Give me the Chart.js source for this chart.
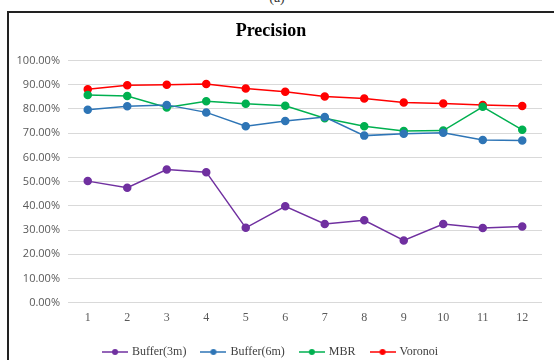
<!DOCTYPE html>
<html lang="en">
<head>
  <meta charset="UTF-8">
  <title>Precision</title>
  <script src="https://cdn.jsdelivr.net/npm/chart.js"></script>
  <style>
    body {
      margin: 0;
      padding: 0;
      background: #fff;
      overflow: hidden;
    }
    .frame {
      position: absolute;
      left: 7px;
      top: 11px;
      width: 580px;
      height: 400px;
      border: 2px solid #222;
      box-sizing: border-box;
    }
    .tag {
      position: absolute;
      left: 0;
      width: 554px;
      top: -10px;
      text-align: center;
      font: 14px "Liberation Serif", serif;
      color: #333;
    }
    .box {
      position: absolute;
      left: 0;
      top: 0;
      width: 554px;
      height: 368px;
    }
  </style>
</head>
<body>
  <div class="tag">(a)</div>
  <div class="frame"></div>
  <div class="box"><canvas id="chart"></canvas></div>
  <script>
    // data
    const runs = ["1", "2", "3", "4", "5", "6", "7", "8", "9", "10", "11", "12"];
    const buffer3m = [50.2, 47.5, 55.0, 53.9, 30.9, 39.8, 32.5, 34.0, 25.7, 32.5, 30.8, 31.4];
    const buffer6m = [79.7, 81.1, 81.7, 78.6, 72.9, 75.0, 76.7, 69.0, 69.8, 70.2, 67.2, 67.0];
    const mbr = [85.8, 85.4, 80.6, 83.2, 82.2, 81.3, 76.2, 72.9, 70.9, 71.1, 80.9, 71.4];
    const voronoi = [88.2, 89.8, 90.0, 90.3, 88.5, 87.1, 85.2, 84.3, 82.7, 82.3, 81.7, 81.2];
    const seriesNames = ["Buffer(3m)", "Buffer(6m)", "MBR", "Voronoi"];
    const seriesColors = ["#7030A0", "#2E75B6", "#00B050", "#FF0000"];

    // legend marker: short line with a dot in the middle
    const legendMark = (color) => {
      const c = document.createElement("canvas");
      c.width = 26;
      c.height = 8;
      const g = c.getContext("2d");
      g.strokeStyle = color;
      g.lineWidth = 1.5;
      g.beginPath();
      g.moveTo(0, 4);
      g.lineTo(26, 4);
      g.stroke();
      g.fillStyle = color;
      g.beginPath();
      g.arc(13, 4, 3, 0, Math.PI * 2);
      g.fill();
      return c;
    };

    const allData = [buffer3m, buffer6m, mbr, voronoi];
    const datasets = allData.map((d, i) => ({
      label: seriesNames[i],
      data: d,
      borderColor: seriesColors[i],
      backgroundColor: seriesColors[i],
      borderWidth: 1.5,
      pointRadius: 3.5,
      pointHoverRadius: 4,
      tension: 0
    }));

    new Chart(document.getElementById("chart"), {
      type: "line",
      data: { labels: runs, datasets: datasets },
      options: {
        responsive: true,
        maintainAspectRatio: false,
        animation: false,
        layout: { padding: { left: 0, right: 12, top: 14, bottom: 0 } },
        plugins: {
          title: {
            display: true,
            text: "Precision",
            color: "#000",
            font: { family: "'Liberation Serif', serif", size: 18, weight: "bold" },
            padding: { top: 7, bottom: 18 }
          },
          legend: {
            position: "bottom",
            labels: {
              usePointStyle: true,
              pointStyleWidth: 22,
              color: "#404040",
              font: { family: "'Liberation Serif', serif", size: 12 },
              padding: 16,
              generateLabels: (chart) => chart.data.datasets.map((ds, i) => ({
                text: ds.label,
                fontColor: "#404040",
                pointStyle: legendMark(seriesColors[i]),
                datasetIndex: i,
                hidden: false,
                lineWidth: 0
              }))
            }
          },
          tooltip: { enabled: false }
        },
        scales: {
          x: {
            offset: true,
            afterFit: (s) => { s.height += 5; },
            grid: { display: false },
            border: { display: false },
            ticks: {
              color: "#595959",
              font: { family: "'Liberation Serif', serif", size: 12 },
              padding: 0
            }
          },
          y: {
            min: 0,
            max: 100,
            afterFit: (s) => { s.width = 68; },
            grid: { color: "#d9d9d9", drawTicks: false },
            border: { display: false },
            ticks: {
              stepSize: 10,
              padding: 8,
              color: "#595959",
              font: { family: "'Open Sans', sans-serif", size: 11 },
              callback: (v) => v.toFixed(2) + "%"
            }
          }
        }
      }
    });
  </script>
</body>
</html>
